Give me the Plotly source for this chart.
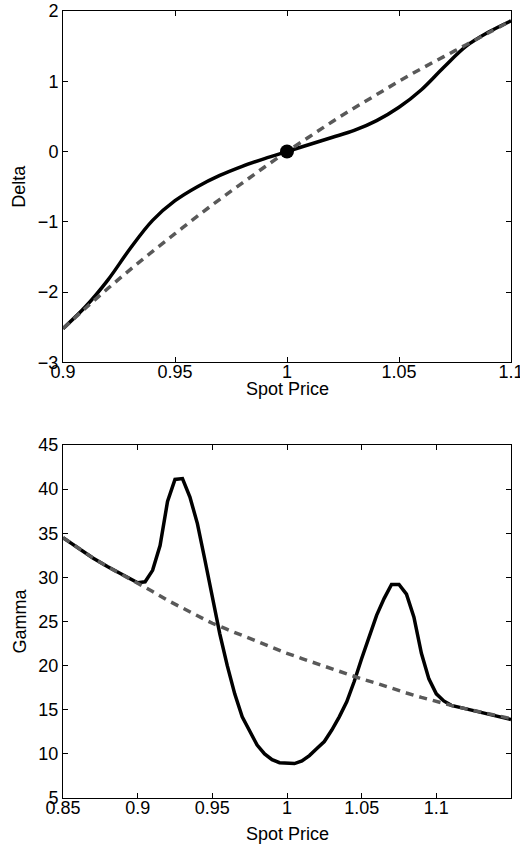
import plotly.graph_objects as go
from plotly.subplots import make_subplots

# ---- Delta panel data ----
delta_x = [0.90, 0.91, 0.92, 0.93, 0.94, 0.95, 0.96, 0.97, 0.98, 0.99, 1.00,
           1.01, 1.02, 1.03, 1.04, 1.05, 1.06, 1.07, 1.08, 1.09, 1.10]
delta_solid = [-2.52, -2.21, -1.83, -1.38, -0.98, -0.70, -0.50, -0.34, -0.21, -0.10, 0.00,
               0.10, 0.20, 0.30, 0.44, 0.63, 0.88, 1.20, 1.50, 1.70, 1.86]
delta_dashed = [-2.52, -2.23, -1.95, -1.68, -1.42, -1.17, -0.92, -0.68, -0.45, -0.22, 0.00,
                0.21, 0.42, 0.62, 0.81, 1.00, 1.18, 1.35, 1.52, 1.69, 1.86]
point_x = [1.0]
point_y = [0.0]

# ---- Gamma panel data ----
gamma_solid_x = [0.85, 0.86, 0.87, 0.88, 0.89, 0.90, 0.905, 0.91, 0.915, 0.92, 0.925,
                 0.93, 0.935, 0.94, 0.945, 0.95, 0.955, 0.96, 0.965, 0.97, 0.975,
                 0.98, 0.985, 0.99, 0.995, 1.00, 1.005, 1.01, 1.015, 1.02, 1.025,
                 1.03, 1.035, 1.04, 1.045, 1.05, 1.055, 1.06, 1.065, 1.07, 1.075,
                 1.08, 1.085, 1.09, 1.095, 1.10, 1.105, 1.11, 1.12, 1.13, 1.14, 1.15]
gamma_solid = [34.5, 33.3, 32.2, 31.2, 30.3, 29.4, 29.5, 30.8, 33.6, 38.6, 41.1,
               41.2, 39.1, 36.1, 32.0, 27.8, 23.6, 20.0, 16.8, 14.2, 12.5,
               11.0, 10.0, 9.35, 9.0, 8.9, 8.9, 9.2, 9.8, 10.6, 11.4,
               12.7, 14.2, 15.9, 18.2, 20.8, 23.4, 25.7, 27.6, 29.2, 29.2,
               28.1, 25.5, 21.4, 18.5, 16.8, 16.0, 15.5, 15.1, 14.7, 14.3, 13.9]
gamma_dashed_x = [0.85, 0.86, 0.87, 0.88, 0.89, 0.90, 0.91, 0.92, 0.93, 0.94, 0.95,
                  0.96, 0.97, 0.98, 0.99, 1.00, 1.01, 1.02, 1.03, 1.04, 1.05,
                  1.06, 1.07, 1.08, 1.09, 1.10, 1.11, 1.12, 1.13, 1.14, 1.15]
gamma_dashed = [34.5, 33.3, 32.2, 31.2, 30.3, 29.4, 28.4, 27.4, 26.5, 25.6, 24.8,
                24.1, 23.4, 22.7, 22.0, 21.4, 20.8, 20.2, 19.6, 19.0, 18.5,
                18.0, 17.4, 16.9, 16.4, 15.9, 15.5, 15.1, 14.7, 14.3, 14.0]

top_xticks = [0.9, 0.95, 1.0, 1.05, 1.1]
top_xlabels = ["0.9", "0.95", "1", "1.05", "1.1"]
top_yticks = [-3, -2, -1, 0, 1, 2]
bot_xticks = [0.85, 0.9, 0.95, 1.0, 1.05, 1.1]
bot_xlabels = ["0.85", "0.9", "0.95", "1", "1.05", "1.1"]
bot_yticks = [5, 10, 15, 20, 25, 30, 35, 40, 45]

SOLID = "#000000"
DASH = "#595959"
FONT = "Liberation Sans, Arial, sans-serif"
FS = 18

fig = make_subplots(rows=2, cols=1)

fig.add_trace(go.Scatter(x=delta_x, y=delta_solid, mode="lines",
                         line=dict(color=SOLID, width=3.5, shape="spline"),
                         showlegend=False), row=1, col=1)
fig.add_trace(go.Scatter(x=delta_x, y=delta_dashed, mode="lines",
                         line=dict(color=DASH, width=3.5, dash="8px,6px", shape="spline"),
                         showlegend=False), row=1, col=1)
fig.add_trace(go.Scatter(x=point_x, y=point_y, mode="markers",
                         marker=dict(color=SOLID, size=14),
                         showlegend=False), row=1, col=1)

fig.add_trace(go.Scatter(x=gamma_solid_x, y=gamma_solid, mode="lines",
                         line=dict(color=SOLID, width=3.5),
                         showlegend=False), row=2, col=1)
fig.add_trace(go.Scatter(x=gamma_dashed_x, y=gamma_dashed, mode="lines",
                         line=dict(color=DASH, width=3.5, dash="8px,6px"),
                         showlegend=False), row=2, col=1)

axis_common = dict(showline=True, linecolor="black", linewidth=1, mirror="ticks",
                   ticks="inside", ticklen=5, tickcolor="black", showgrid=False,
                   zeroline=False, automargin=False,
                   tickfont=dict(size=FS, color="black", family=FONT))
xaxis_extra = dict(ticklabelstandoff=-7, ticklabeloverflow="allow")

fig.update_layout(
    width=520, height=844,
    margin=dict(l=63, r=9, t=11, b=46),
    plot_bgcolor="white", paper_bgcolor="white",
    font=dict(family=FONT, color="black", size=FS),
    xaxis=dict(domain=[0, 1], range=[0.9, 1.1], tickvals=top_xticks, ticktext=top_xlabels,
               **axis_common, **xaxis_extra),
    yaxis=dict(domain=[0.5536, 1], range=[-3, 2], tickvals=top_yticks,
               title=dict(text="Delta", standoff=7, font=dict(size=FS)), **axis_common),
    xaxis2=dict(domain=[0, 1], range=[0.85, 1.15], tickvals=bot_xticks, ticktext=bot_xlabels,
                **axis_common, **xaxis_extra),
    yaxis2=dict(domain=[0, 0.4485], range=[5, 45], tickvals=bot_yticks,
                title=dict(text="Gamma", standoff=7, font=dict(size=FS)), **axis_common),
    annotations=[
        dict(text="Spot Price", xref="paper", yref="paper", x=0.5, y=0.5197,
             xanchor="center", yanchor="middle", showarrow=False,
             font=dict(size=FS, color="black", family=FONT)),
        dict(text="Spot Price", xref="paper", yref="paper", x=0.5, y=-0.0457,
             xanchor="center", yanchor="middle", showarrow=False,
             font=dict(size=FS, color="black", family=FONT)),
    ],
)

fig.write_html("out.html")
